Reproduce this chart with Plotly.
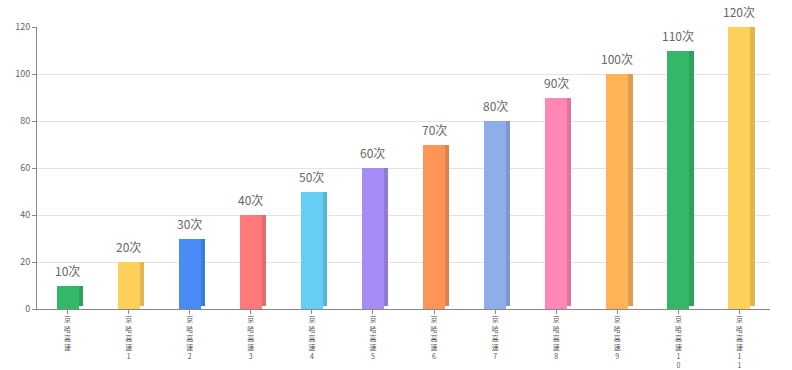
import plotly.graph_objects as go

categories = ["京哈高速"] + [f"京哈高速{i}" for i in range(1, 12)]
values = [10, 20, 30, 40, 50, 60, 70, 80, 90, 100, 110, 120]
value_labels = [f"{v}次" for v in values]
colors = ["#35b76a", "#ffd05a", "#4a8cf7", "#ff7b7b", "#66cdf5",
          "#a58cf5", "#ff9459", "#8eaeea", "#ff87b5", "#ffb357",
          "#35b76a", "#ffd05a"]
y_ticks = [0, 20, 40, 60, 80, 100, 120]


def darker(hexc, f=0.88):
    h = hexc.lstrip("#")
    r, g, b = (int(h[i:i + 2], 16) for i in (0, 2, 4))
    return "#%02x%02x%02x" % (int(r * f), int(g * f), int(b * f))


tick_text = ["<br>".join(list(c)) for c in categories]
xs = list(range(len(categories)))

fig = go.Figure()
# side face
fig.add_trace(go.Bar(
    x=xs, y=[v - 1.2 for v in values], base=[1.2] * len(values),
    width=0.08, offset=0.17,
    marker=dict(color=[darker(c) for c in colors], line=dict(width=0)),
    hoverinfo="skip", showlegend=False))
# front face
fig.add_trace(go.Bar(
    x=xs, y=values, width=0.36, offset=-0.18,
    marker=dict(color=colors, line=dict(width=0)),
    showlegend=False))

for x, v, t in zip(xs, values, value_labels):
    fig.add_annotation(x=x, y=v, text=t, showarrow=False, yanchor="bottom",
                       yshift=5, font=dict(size=12, color="#666666"))

fig.update_layout(
    width=792, height=370,
    margin=dict(l=37, r=22, t=27, b=61, autoexpand=False),
    plot_bgcolor="white", paper_bgcolor="white",
    barmode="overlay", bargap=0,
    font=dict(family="Noto Sans CJK SC, sans-serif", color="#666666"),
    xaxis=dict(
        tickmode="array", tickvals=xs, ticktext=tick_text, automargin=False,
        range=[-0.5, 11.5], showline=True, linecolor="#888888", linewidth=1,
        ticks="outside", tickson="boundaries", ticklen=4, tickcolor="#888888",
        tickfont=dict(size=7, color="#555555"), tickangle=0,
        showgrid=False, zeroline=False),
    yaxis=dict(
        range=[0, 120], tickvals=y_ticks, showline=True, linecolor="#888888",
        linewidth=1, ticks="outside", ticklen=4, tickcolor="#888888",
        automargin=False,
        tickfont=dict(size=9, color="#666666"),
        showgrid=True, gridcolor="#e3e3e3", zeroline=False),
)

fig.write_html("out.html", config={"displayModeBar": False},
               post_script="document.body.style.margin='0';")
